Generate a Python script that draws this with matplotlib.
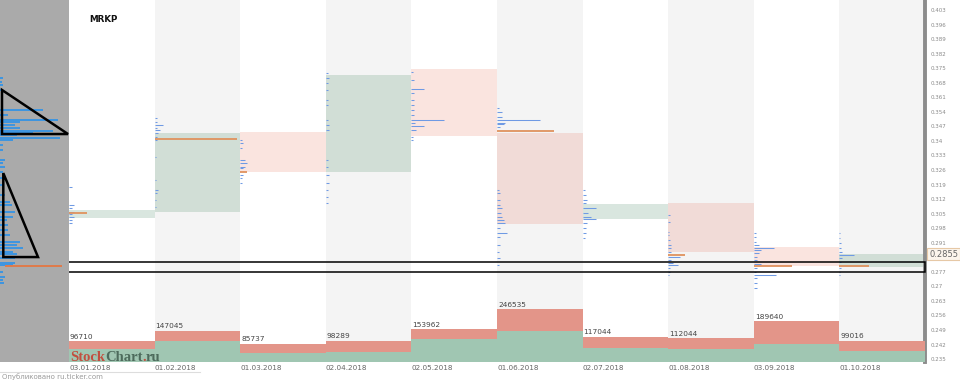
import matplotlib
matplotlib.use("Agg")
import matplotlib.pyplot as plt
from matplotlib.patches import Rectangle, Polygon
from matplotlib.lines import Line2D
import numpy as np

# ---------------- data ----------------
dates = ["03.01.2018", "01.02.2018", "01.03.2018", "02.04.2018", "02.05.2018",
         "01.06.2018", "02.07.2018", "01.08.2018", "03.09.2018", "01.10.2018"]
opens = [0.3028, 0.3059, 0.3441, 0.3248, 0.3746, 0.3439, 0.3024, 0.3101, 0.2889, 0.2792]
closes = [0.3067, 0.3438, 0.3248, 0.3717, 0.3425, 0.2999, 0.3096, 0.2865, 0.2798, 0.2855]
vol_total = [96710, 147045, 85737, 98289, 153962, 246535, 117044, 112044, 189640, 99016]
vol_buy = [59400, 98200, 40700, 48200, 106200, 145000, 64100, 59400, 82800, 51400]
poc_price = [0.3052, 0.3409, 0.3250, None, None, 0.3449, None, 0.2850, 0.2797, 0.2797]
poc_vol = [18, 82, 7, 0, 0, 57, 0, 17, 38, 30]
last_price = 0.2855

# monthly volume profiles (price levels, relative volume)
prof_jan_p = [0.3178, 0.3091, 0.3077, 0.3057, 0.3048, 0.3033, 0.3019, 0.3004]
prof_jan_v = [3, 5, 3, 5, 3, 5, 3, 3]
prof_feb_p = [0.3510, 0.3491, 0.3476, 0.3462, 0.3452, 0.3438, 0.3418, 0.3404, 0.3322,
              0.3211, 0.3163, 0.3149, 0.3115, 0.3081]
prof_feb_v = [2, 2, 8, 2, 5, 3, 2, 2, 1, 1, 3, 2, 1, 1]
prof_mar_p = [0.3404, 0.3389, 0.3365, 0.3308, 0.3293, 0.3274, 0.3269, 0.3235, 0.3221, 0.3197]
prof_mar_v = [2, 3, 2, 5, 7, 5, 3, 3, 2, 2]
prof_apr_p = [0.3727, 0.3702, 0.3678, 0.3645, 0.3597, 0.3572, 0.3500, 0.3476, 0.3452,
              0.3308, 0.3274, 0.3235, 0.3197, 0.3163, 0.3129, 0.3101]
prof_apr_v = [2, 3, 2, 2, 2, 2, 2, 3, 3, 2, 2, 3, 3, 2, 2, 2]
prof_may_p = [0.3731, 0.3693, 0.3650, 0.3630, 0.3597, 0.3572, 0.3548, 0.3524, 0.3500,
              0.3486, 0.3471, 0.3452, 0.3418, 0.3404]
prof_may_v = [2, 3, 13, 3, 3, 3, 3, 3, 33, 4, 13, 5, 2, 2]
prof_jun_p = [0.3558, 0.3539, 0.3515, 0.3500, 0.3486, 0.3481, 0.3467, 0.3163, 0.3149,
              0.3115, 0.3091, 0.3077, 0.3052, 0.3033, 0.3019, 0.3004, 0.2980, 0.2956,
              0.2937, 0.2898, 0.2865, 0.2836, 0.2802]
prof_jun_v = [2, 5, 5, 43, 8, 7, 3, 2, 3, 3, 3, 5, 4, 5, 7, 8, 3, 10, 3, 3, 2, 3, 2]
prof_jul_p = [0.3163, 0.3139, 0.3115, 0.3101, 0.3077, 0.3052, 0.3033, 0.3024, 0.3004,
              0.2980, 0.2956, 0.2932]
prof_jul_v = [2, 3, 4, 3, 13, 5, 8, 13, 4, 3, 3, 2]
prof_aug_p = [0.3043, 0.3009, 0.2961, 0.2947, 0.2922, 0.2898, 0.2884, 0.2865, 0.2841,
              0.2826, 0.2812, 0.2802, 0.2788, 0.2768, 0.2754]
prof_aug_v = [2, 2, 1, 1, 2, 3, 3, 3, 12, 3, 5, 10, 2, 2, 1]
prof_sep_p = [0.2956, 0.2937, 0.2913, 0.2898, 0.2884, 0.2874, 0.2860, 0.2841, 0.2826,
              0.2807, 0.2788, 0.2768, 0.2754, 0.2739, 0.2715, 0.2691]
prof_sep_v = [2, 2, 2, 5, 20, 7, 5, 3, 3, 7, 3, 2, 22, 3, 3, 3]
prof_oct_p = [0.2956, 0.2932, 0.2908, 0.2884, 0.2865, 0.2850, 0.2836, 0.2817, 0.2788,
              0.2768, 0.2754]
prof_oct_v = [1, 1, 2, 2, 3, 15, 3, 2, 2, 1, 1]

# whole-period profile (left panel)
left_p = [0.3702, 0.3683, 0.3669, 0.3645, 0.3548, 0.3524, 0.3500, 0.3491, 0.3476, 0.3462,
          0.3447, 0.3438, 0.3428, 0.3414, 0.3404, 0.3380, 0.3356, 0.3308, 0.3293, 0.3274,
          0.3250, 0.3221, 0.3187, 0.3139, 0.3105, 0.3091, 0.3057, 0.3033, 0.3019, 0.2995,
          0.2971, 0.2947, 0.2913, 0.2898, 0.2884, 0.2865, 0.2855, 0.2836, 0.2812, 0.2802,
          0.2768, 0.2744, 0.2730, 0.2715]
left_v = [3, 2, 3, 2, 43, 8, 58, 20, 15, 20,
          53, 33, 17, 60, 13, 3, 3, 5, 3, 5,
          3, 3, 3, 5, 10, 12, 15, 13, 7, 8,
          8, 10, 20, 17, 23, 13, 17, 15, 15, 13,
          3, 5, 3, 4]
left_poc = 0.2797
left_poc_vol = 57

# annotation shapes (left-panel units, price)
tri1 = [(2, 0.3645), (2, 0.3433), (68, 0.3433)]
tri2 = [(3.3, 0.3245), (3.3, 0.2841), (38, 0.2841)]
zone_lo, zone_hi = 0.2768, 0.2817

# 0.284 is hidden behind the last-price label in the original
yticks = [0.235, 0.242, 0.249, 0.256, 0.263, 0.27, 0.277, 0.291, 0.298, 0.305,
          0.312, 0.319, 0.326, 0.333, 0.34, 0.347, 0.354, 0.361, 0.368, 0.375, 0.382,
          0.389, 0.396, 0.403]
ytick_labels = ["0.235", "0.242", "0.249", "0.256", "0.263", "0.27", "0.277",
                "0.291", "0.298", "0.305", "0.312", "0.319", "0.326", "0.333", "0.34",
                "0.347", "0.354", "0.361", "0.368", "0.375", "0.382", "0.389", "0.396",
                "0.403"]

profiles_p = [prof_jan_p, prof_feb_p, prof_mar_p, prof_apr_p, prof_may_p,
              prof_jun_p, prof_jul_p, prof_aug_p, prof_sep_p, prof_oct_p]
profiles_v = [prof_jan_v, prof_feb_v, prof_mar_v, prof_apr_v, prof_may_v,
              prof_jun_v, prof_jul_v, prof_aug_v, prof_sep_v, prof_oct_v]

# ---------------- figure ----------------
W, H = 960, 380
YMIN, YMAX = 0.2336, 0.4078
COL_PX = 85.6
fig = plt.figure(figsize=(W / 100, H / 100), dpi=100)
fig.patch.set_facecolor("white")

ax = fig.add_axes([69 / W, 18 / H, 856 / W, 362 / H])
ax.set_xlim(0, len(dates))
ax.set_ylim(YMIN, YMAX)
ax.set_facecolor("white")

for i in range(len(dates)):
    if i % 2 == 1:
        ax.axvspan(i, i + 1, color="#f4f4f4", lw=0, zorder=0)

# candle bodies
for i, (o, c) in enumerate(zip(opens, closes)):
    up = c >= o
    col = (0.42, 0.62, 0.50) if up else (0.90, 0.47, 0.39)
    ax.bar(i, c - o, bottom=o, width=1, align="edge", color=col,
           alpha=0.25 if up else 0.2, lw=0, zorder=1)

# monthly profiles
scale = 1 / COL_PX
for i, (pp, vv) in enumerate(zip(profiles_p, profiles_v)):
    ax.hlines(pp, i, i + np.array(vv) * scale, color="#6f9ae4", lw=0.75, zorder=2)
    if poc_price[i] is not None:
        ax.hlines(poc_price[i], i, i + poc_vol[i] * scale, color="#e0925e", lw=1.3, zorder=3)

# zone rectangle spanning both panels
x0 = (3 - 69) / COL_PX
ax.add_patch(Rectangle((x0, zone_lo), len(dates) - x0, zone_hi - zone_lo, fill=False,
                       ec="black", lw=1.1, clip_on=False, zorder=6))

# volume (twin axis)
axv = ax.twinx()
axv.set_ylim(0, 1.69e6)
axv.set_xlim(0, len(dates))
xs = np.arange(len(dates))
buy = np.array(vol_buy)
tot = np.array(vol_total)
axv.bar(xs, buy, width=1, align="edge", color="#a0c6b2", lw=0, zorder=1)
axv.bar(xs, tot - buy, bottom=buy, width=1, align="edge", color="#e39589", lw=0, zorder=1)
for i, t in enumerate(vol_total):
    axv.annotate(str(t), xy=(i, t), xytext=(1, 1.5), textcoords="offset pixels",
                 ha="left", va="bottom", fontsize=5.3, color="#444444")
axv.yaxis.set_visible(False)
for s in axv.spines.values():
    s.set_visible(False)

# spines / ticks of price axis (after twinx, which resets tick side)
for s in ["top", "left", "bottom"]:
    ax.spines[s].set_visible(False)
ax.spines["right"].set_visible(True)
ax.spines["right"].set_color("#8c8c8c")
ax.spines["right"].set_linewidth(2.8)
ax.yaxis.tick_right()
ax.yaxis.set_label_position("right")
ax.set_yticks(yticks)
ax.set_yticklabels(ytick_labels)
ax.tick_params(axis="y", which="both", left=False, right=True, labelleft=False,
               labelright=True, length=0, pad=4, labelsize=4, labelcolor="#8a8a8a")
ax.set_xticks(range(len(dates)))
ax.set_xticklabels(dates, ha="left")
ax.tick_params(axis="x", length=0, pad=2.5, labelsize=5.2, labelcolor="#666666")

# last price label
axv.annotate(f"{last_price}", xy=(1, (last_price - YMIN) / (YMAX - YMIN)),
             xycoords="axes fraction",
             xytext=(4, 0), textcoords="offset pixels", va="center", ha="left",
             fontsize=6, color="#666666", zorder=10, annotation_clip=False,
             bbox=dict(boxstyle="square,pad=0.2", fc="#fcf5ec", ec="#e6c8a6", lw=0.8))

# left panel: whole-period profile
axl = fig.add_axes([0, 18 / H, 69 / W, 362 / H])
axl.set_facecolor("#aaaaaa")
axl.set_xlim(0, 69)
axl.set_ylim(YMIN, YMAX)
axl.set_xticks([])
axl.set_yticks([])
for s in axl.spines.values():
    s.set_visible(False)
axl.hlines(left_p, 0, left_v, color="#1f8ff0", lw=1.1, zorder=2)
axl.hlines(left_poc, 5, 5 + left_poc_vol, color="#e07a4a", lw=1.4, zorder=3)
axl.add_patch(Polygon(tri1, closed=True, fill=False, ec="black", lw=1.8, zorder=5,
                      clip_on=False))
axl.add_patch(Polygon(tri2, closed=True, fill=False, ec="black", lw=1.8, zorder=5,
                      clip_on=False))

# title
fig.text(89 / W, 1 - 20 / H, "MRKP", fontsize=6.3, fontweight="bold", va="center",
         ha="left", color="#111111")

# watermark
serif = ["Liberation Serif", "DejaVu Serif"]
fig.canvas.draw()
rend = fig.canvas.get_renderer()
xpos = 70
for part, col in [("Stock", "#c24f3f"), ("Chart", "#4d6b5c"), (".", "#c24f3f"), ("ru", "#4d6b5c")]:
    t = fig.text(xpos / W, 1 - 361 / H, part, fontsize=10.5, fontweight="bold", family=serif,
                 color=col, va="baseline", ha="left", zorder=20)
    bb = t.get_window_extent(renderer=rend)
    xpos += bb.width

# footer
fig.add_artist(Line2D([0, 200 / W], [1 - 372 / H, 1 - 372 / H], color="#dddddd", lw=0.8))
fig.text(2 / W, 0.5 / H, "Опубликовано ru.ticker.com", fontsize=5, color="#9a9a9a",
         va="bottom", ha="left")

fig.savefig("out.png", dpi=100)
